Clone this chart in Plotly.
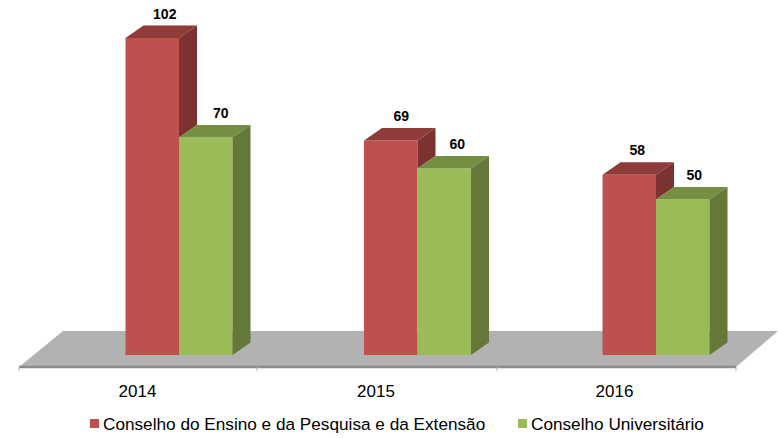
import plotly.graph_objects as go

years = ["2014", "2015", "2016"]
series_names = ["Conselho do Ensino e da Pesquisa e da Extensão", "Conselho Universitário"]
ensino = [102, 69, 58]
universitario = [70, 60, 50]

W, H = 778, 438
PX_PER_CAT = 238.5
PX_PER_VAL = 317 / 102
X0_PX, Y0_PX = 179, 355
BAR_W = 53.5 / PX_PER_CAT
DX = 18 / PX_PER_CAT
DY = 12.5 / PX_PER_VAL
LABEL_LIFT = 3.5 / PX_PER_VAL
FONT = "Liberation Sans, Arial, sans-serif"
RED, RED_TOP, RED_SIDE = "#c0504d", "#8f3b39", "#7b3231"
GREEN, GREEN_TOP, GREEN_SIDE = "#9bbb59", "#758f42", "#64793a"
label_nudge = [[12.5, 15], [10.5, 13], [8, 11.5]]

positions = list(range(len(years)))
fig = go.Figure()


def face(xs, ys, color):
    fig.add_trace(go.Scatter(x=xs, y=ys, mode="lines", fill="toself", fillcolor=color,
                             line=dict(width=0, color=color), showlegend=False, hoverinfo="skip"))


fig.add_trace(go.Bar(x=positions, y=ensino, name=series_names[0], marker=dict(color=RED, line=dict(width=0)),
                     showlegend=False))
fig.add_trace(go.Bar(x=positions, y=universitario, name=series_names[1], marker=dict(color=GREEN, line=dict(width=0)),
                     showlegend=False))

for p, r, g in zip(positions, ensino, universitario):
    left, mid, right = p - BAR_W, p, p + BAR_W
    face([left, left + DX, mid + DX, mid], [r, r + DY, r + DY, r], RED_TOP)
    face([mid, mid + DX, mid + DX, mid], [r, r + DY, g + DY, g], RED_SIDE)
    face([mid, mid + DX, right + DX, right], [g, g + DY, g + DY, g], GREEN_TOP)
    face([right, right + DX, right + DX, right], [g, g + DY, DY, 0], GREEN_SIDE)

lx, ly, lt = [], [], []
for p, r, g, n in zip(positions, ensino, universitario, label_nudge):
    lx += [p - BAR_W / 2 + n[0] / PX_PER_CAT, p + BAR_W / 2 + n[1] / PX_PER_CAT]
    ly += [r + DY + LABEL_LIFT, g + DY + LABEL_LIFT]
    lt += [f"<b>{r}</b>", f"<b>{g}</b>"]
fig.add_trace(go.Scatter(x=lx, y=ly, text=lt, mode="text", textposition="top center",
                         textfont=dict(family=FONT, size=14, color="#000000"),
                         showlegend=False, hoverinfo="skip"))


def px(x):
    return x / W


def py(y):
    return 1 - y / H


shapes = [
    dict(type="path", xref="paper", yref="paper", layer="below", line=dict(width=0), fillcolor="#b2b2b2",
         path=f"M{px(19)},{py(367)} L{px(63)},{py(331)} L{px(778)},{py(331)} L{px(736)},{py(367)} Z"),
    dict(type="line", xref="paper", yref="paper", layer="below", x0=px(19), x1=px(736), y0=py(367), y1=py(367),
         line=dict(color="#8c8c8c", width=2.5)),
]
for tx in (19, 257, 497, 736):
    shapes.append(dict(type="line", xref="paper", yref="paper", layer="below", x0=px(tx), x1=px(tx),
                       y0=py(367), y1=py(371), line=dict(color="#b0b0b0", width=1)))

legend_items = [(90, 101, RED, series_names[0]), (518, 529, GREEN, series_names[1])]
annotations = []
for sx, tx, col, name in legend_items:
    shapes.append(dict(type="rect", xref="paper", yref="paper", x0=px(sx), x1=px(sx + 9), y0=py(428), y1=py(419),
                       line=dict(width=0), fillcolor=col))
    annotations.append(dict(xref="paper", yref="paper", x=px(tx), y=py(424), xanchor="left", yanchor="middle",
                            text=name, showarrow=False, font=dict(family=FONT, size=17.2, color="#000000")))

fig.update_layout(
    width=W, height=H, margin=dict(l=0, r=0, t=0, b=0), paper_bgcolor="white", plot_bgcolor="rgba(0,0,0,0)",
    barmode="group", bargap=1 - 2 * BAR_W, bargroupgap=0, showlegend=False,
    shapes=shapes, annotations=annotations,
    xaxis=dict(range=[-X0_PX / PX_PER_CAT, (W - X0_PX) / PX_PER_CAT], showgrid=False, zeroline=False, showline=False,
               anchor="free", position=py(367), ticks="", tickmode="array",
               tickvals=[p - 41.5 / PX_PER_CAT for p in positions], ticktext=years, ticklabelstandoff=12,
               tickfont=dict(family=FONT, size=17, color="#000000")),
    yaxis=dict(range=[-(H - Y0_PX) / PX_PER_VAL, Y0_PX / PX_PER_VAL], visible=False),
)
fig.write_html("out.html", config={"displayModeBar": False}, post_script="document.body.style.margin='0'")
